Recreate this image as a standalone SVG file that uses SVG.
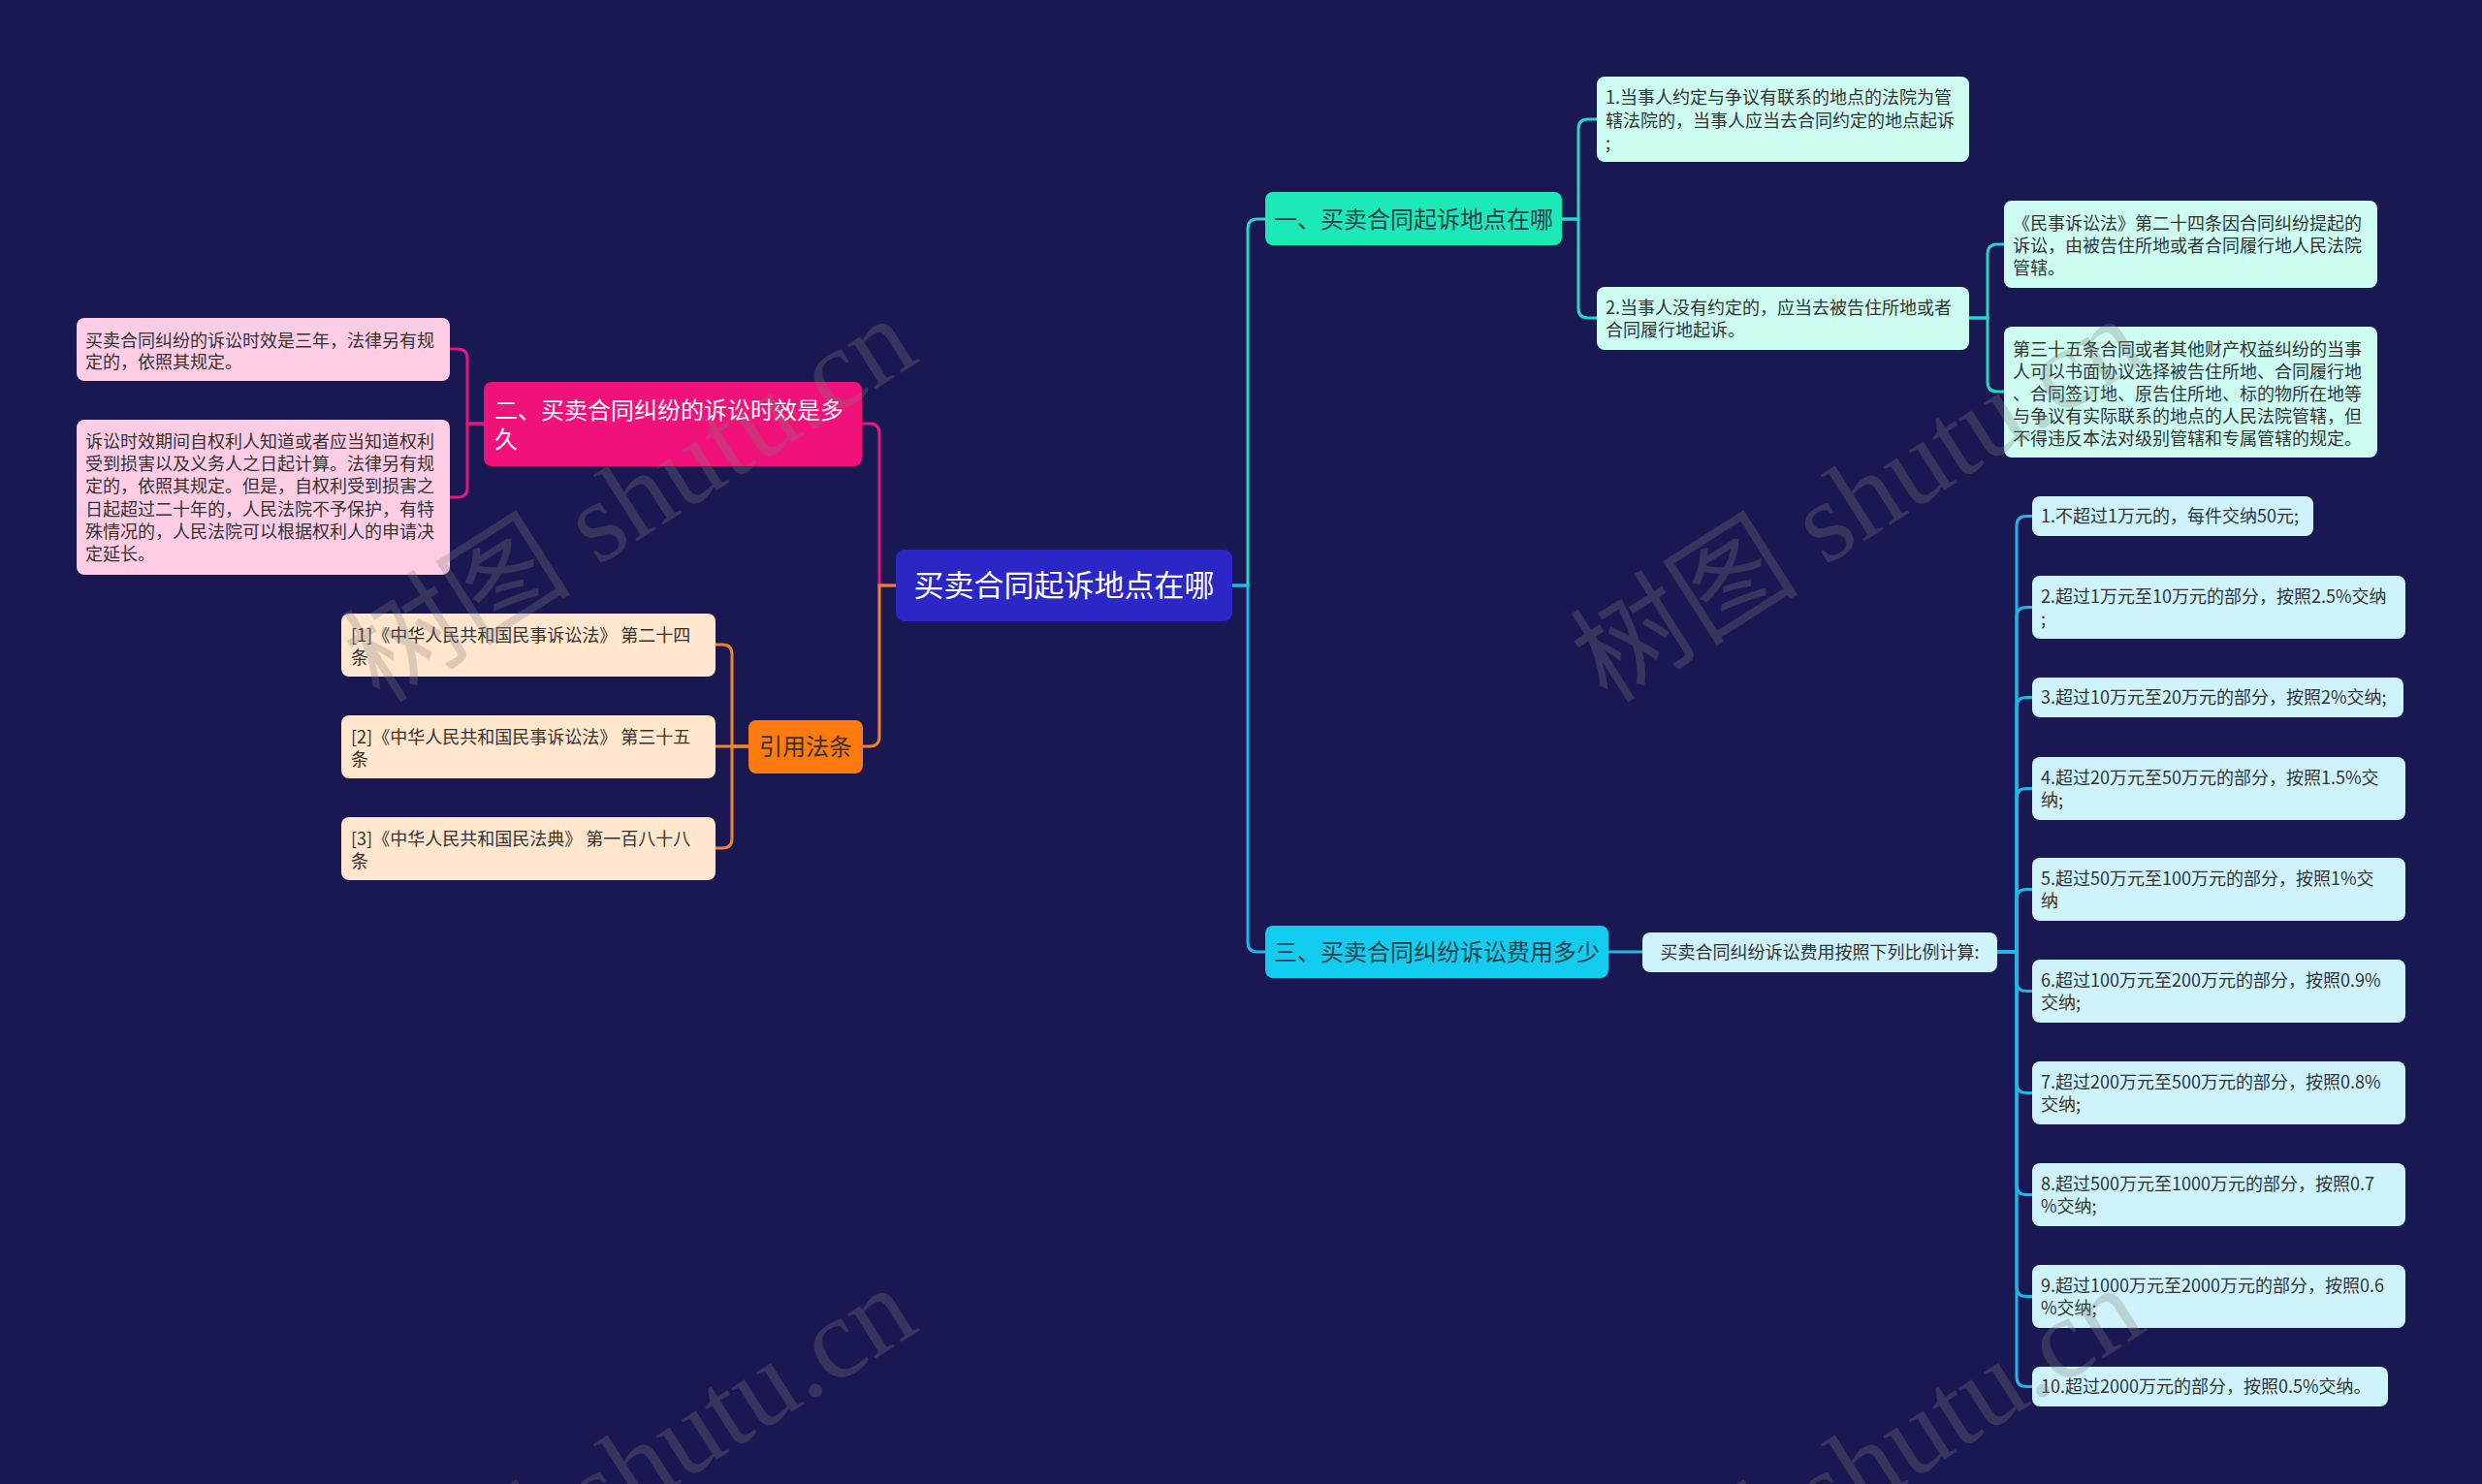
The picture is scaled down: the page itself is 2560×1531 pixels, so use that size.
<svg xmlns="http://www.w3.org/2000/svg" width="2560" height="1531" viewBox="0 0 2560 1531">
<style>
.t{font-family:"Noto Sans CJK SC","Noto Sans",sans-serif;}
.leaf{font-size:18px;fill:#333333;}
.big{font-size:24px;}
.c{fill:none;stroke-width:3;stroke-linecap:round;}
.mint{fill:#ccfdf0;}
.pinkl{fill:#ffcde3;}
.peach{fill:#ffe6cc;}
.cyanl{fill:#cff3fb;}
.wm{font-family:"Liberation Serif","Noto Sans CJK SC",serif;font-size:118px;fill:#808080;opacity:0.28;}
</style>
<rect x="0" y="0" width="2560" height="1531" fill="#1a1852"/>

<g id="connectors">
  <g stroke="#22d8c8" class="c">
    <path class="c" d="M1271 604 H1287 V236 Q1287 226 1297 226 H1305"/>
    <path class="c" d="M1611 226 H1628 V133 Q1628 123 1638 123 H1647"/>
    <path class="c" d="M1611 226 H1628 V318 Q1628 328 1638 328 H1647"/>
    <path class="c" d="M2031 328 H2050 V262 Q2050 252 2060 252 H2067"/>
    <path class="c" d="M2031 328 H2050 V394 Q2050 404 2060 404 H2067"/>
  </g>
  <g stroke="#1cb9e8" class="c">
    <path class="c" d="M1271 604 H1287 V972 Q1287 982 1297 982 H1305"/>
    <path class="c" d="M1659 982 H1694"/>
    <path class="c" d="M2060 982 H2080 V542.5 Q2080 532.5 2090 532.5 H2096"/>
    <path class="c" d="M2060 982 H2080 V636.5 Q2080 626.5 2090 626.5 H2096"/>
    <path class="c" d="M2060 982 H2080 V729.5 Q2080 719.5 2090 719.5 H2096"/>
    <path class="c" d="M2060 982 H2080 V823.5 Q2080 813.5 2090 813.5 H2096"/>
    <path class="c" d="M2060 982 H2080 V927.5 Q2080 917.5 2090 917.5 H2096"/>
    <path class="c" d="M2060 982 H2080 V1012.5 Q2080 1022.5 2090 1022.5 H2096"/>
    <path class="c" d="M2060 982 H2080 V1117.5 Q2080 1127.5 2090 1127.5 H2096"/>
    <path class="c" d="M2060 982 H2080 V1222.5 Q2080 1232.5 2090 1232.5 H2096"/>
    <path class="c" d="M2060 982 H2080 V1327.5 Q2080 1337.5 2090 1337.5 H2096"/>
    <path class="c" d="M2060 982 H2080 V1420.5 Q2080 1430.5 2090 1430.5 H2096"/>
  </g>
  <g stroke="#e3197c" class="c">
    <path class="c" d="M924 604 H907 V447 Q907 437 897 437 H889"/>
    <path class="c" d="M499 437 H482 V370 Q482 360 472 360 H464"/>
    <path class="c" d="M499 437 H482 V503 Q482 513 472 513 H464"/>
  </g>
  <g stroke="#f0832a" class="c">
    <path class="c" d="M924 604 H907 V760 Q907 770 897 770 H890"/>
    <path class="c" d="M772 770 H755 V675 Q755 665 745 665 H738"/>
    <path class="c" d="M772 770 H738"/>
    <path class="c" d="M772 770 H755 V865 Q755 875 745 875 H738"/>
  </g>
</g>

<g id="root">
  <rect x="924" y="567" width="347" height="74" rx="9" fill="#2a27c6"/>
  <text class="t" x="1097.5" y="615" font-size="31" fill="#ffffff" text-anchor="middle">买卖合同起诉地点在哪</text>
</g>

<g id="n1">
  <rect x="1305" y="198" width="306" height="55" rx="8" fill="#1de8b8"/>
  <text class="t big" x="1458" y="234.5" fill="#26404a" text-anchor="middle">一、买卖合同起诉地点在哪</text>
</g>
<g id="n1-1">
  <rect class="mint" x="1647" y="79" width="384" height="88" rx="8"/>
  <text class="t leaf"><tspan x="1656" y="106.5">1.当事人约定与争议有联系的地点的法院为管</tspan><tspan x="1656" y="130.5">辖法院的，当事人应当去合同约定的地点起诉</tspan><tspan x="1656" y="154">;</tspan></text>
</g>
<g id="n1-2">
  <rect class="mint" x="1647" y="296" width="384" height="65" rx="8"/>
  <text class="t leaf"><tspan x="1656" y="323.5">2.当事人没有约定的，应当去被告住所地或者</tspan><tspan x="1656" y="346.5">合同履行地起诉。</tspan></text>
</g>
<g id="n1-2-1">
  <rect class="mint" x="2067" y="207" width="385" height="90" rx="8"/>
  <text class="t leaf"><tspan x="2076" y="236.5">《民事诉讼法》第二十四条因合同纠纷提起的</tspan><tspan x="2076" y="259.5">诉讼，由被告住所地或者合同履行地人民法院</tspan><tspan x="2076" y="283">管辖。</tspan></text>
</g>
<g id="n1-2-2">
  <rect class="mint" x="2067" y="337" width="385" height="135" rx="8"/>
  <text class="t leaf"><tspan x="2076" y="366.5">第三十五条合同或者其他财产权益纠纷的当事</tspan><tspan x="2076" y="389.5">人可以书面协议选择被告住所地、合同履行地</tspan><tspan x="2076" y="412.5">、合同签订地、原告住所地、标的物所在地等</tspan><tspan x="2076" y="435.5">与争议有实际联系的地点的人民法院管辖，但</tspan><tspan x="2076" y="458.5">不得违反本法对级别管辖和专属管辖的规定。</tspan></text>
</g>

<g id="n3">
  <rect x="1305" y="955" width="354" height="54" rx="8" fill="#12cdf0"/>
  <text class="t big" x="1482" y="990.5" fill="#26404a" text-anchor="middle">三、买卖合同纠纷诉讼费用多少</text>
</g>
<g id="n3-1">
  <rect class="cyanl" x="1694" y="962" width="366" height="41" rx="8"/>
  <text class="t leaf" x="1877" y="988.5" text-anchor="middle">买卖合同纠纷诉讼费用按照下列比例计算:</text>
</g>
<g id="f1">
  <rect class="cyanl" x="2096" y="512" width="290" height="41" rx="8"/>
  <text class="t leaf" x="2105" y="539">1.不超过1万元的，每件交纳50元;</text>
</g>
<g id="f2">
  <rect class="cyanl" x="2096" y="594" width="385" height="65" rx="8"/>
  <text class="t leaf"><tspan x="2105" y="621.5">2.超过1万元至10万元的部分，按照2.5%交纳</tspan><tspan x="2105" y="644.5">;</tspan></text>
</g>
<g id="f3">
  <rect class="cyanl" x="2096" y="699" width="383" height="41" rx="8"/>
  <text class="t leaf" x="2105" y="726">3.超过10万元至20万元的部分，按照2%交纳;</text>
</g>
<g id="f4">
  <rect class="cyanl" x="2096" y="781" width="385" height="65" rx="8"/>
  <text class="t leaf"><tspan x="2105" y="808.5">4.超过20万元至50万元的部分，按照1.5%交</tspan><tspan x="2105" y="831.5">纳;</tspan></text>
</g>
<g id="f5">
  <rect class="cyanl" x="2096" y="885" width="385" height="65" rx="8"/>
  <text class="t leaf"><tspan x="2105" y="912.5">5.超过50万元至100万元的部分，按照1%交</tspan><tspan x="2105" y="935.5">纳</tspan></text>
</g>
<g id="f6">
  <rect class="cyanl" x="2096" y="990" width="385" height="65" rx="8"/>
  <text class="t leaf"><tspan x="2105" y="1017.5">6.超过100万元至200万元的部分，按照0.9%</tspan><tspan x="2105" y="1040.5">交纳;</tspan></text>
</g>
<g id="f7">
  <rect class="cyanl" x="2096" y="1095" width="385" height="65" rx="8"/>
  <text class="t leaf"><tspan x="2105" y="1122.5">7.超过200万元至500万元的部分，按照0.8%</tspan><tspan x="2105" y="1145.5">交纳;</tspan></text>
</g>
<g id="f8">
  <rect class="cyanl" x="2096" y="1200" width="385" height="65" rx="8"/>
  <text class="t leaf"><tspan x="2105" y="1227.5">8.超过500万元至1000万元的部分，按照0.7</tspan><tspan x="2105" y="1250.5">%交纳;</tspan></text>
</g>
<g id="f9">
  <rect class="cyanl" x="2096" y="1305" width="385" height="65" rx="8"/>
  <text class="t leaf"><tspan x="2105" y="1332.5">9.超过1000万元至2000万元的部分，按照0.6</tspan><tspan x="2105" y="1355.5">%交纳;</tspan></text>
</g>
<g id="f10">
  <rect class="cyanl" x="2096" y="1410" width="367" height="41" rx="8"/>
  <text class="t leaf" x="2105" y="1437">10.超过2000万元的部分，按照0.5%交纳。</text>
</g>

<g id="n2">
  <rect x="499" y="394" width="390" height="87" rx="8" fill="#f0117a"/>
  <text class="t big" fill="#ffffff"><tspan x="510" y="431.5">二、买卖合同纠纷的诉讼时效是多</tspan><tspan x="510" y="461.5">久</tspan></text>
</g>
<g id="n2-1">
  <rect class="pinkl" x="79" y="328" width="385" height="65" rx="8"/>
  <text class="t leaf"><tspan x="88" y="358">买卖合同纠纷的诉讼时效是三年，法律另有规</tspan><tspan x="88" y="380">定的，依照其规定。</tspan></text>
</g>
<g id="n2-2">
  <rect class="pinkl" x="79" y="433" width="385" height="160" rx="8"/>
  <text class="t leaf"><tspan x="88" y="461.5">诉讼时效期间自权利人知道或者应当知道权利</tspan><tspan x="88" y="484.5">受到损害以及义务人之日起计算。法律另有规</tspan><tspan x="88" y="508">定的，依照其规定。但是，自权利受到损害之</tspan><tspan x="88" y="531.5">日起超过二十年的，人民法院不予保护，有特</tspan><tspan x="88" y="554.5">殊情况的，人民法院可以根据权利人的申请决</tspan><tspan x="88" y="578">定延长。</tspan></text>
</g>

<g id="n4">
  <rect x="772" y="743" width="118" height="55" rx="8" fill="#ff7b10"/>
  <text class="t big" x="831" y="778.5" fill="#333333" text-anchor="middle">引用法条</text>
</g>
<g id="n4-1">
  <rect class="peach" x="352" y="633" width="386" height="65" rx="8"/>
  <text class="t leaf"><tspan x="362" y="661.5">[1]《中华人民共和国民事诉讼法》 第二十四</tspan><tspan x="362" y="684.5">条</tspan></text>
</g>
<g id="n4-2">
  <rect class="peach" x="352" y="738" width="386" height="65" rx="8"/>
  <text class="t leaf"><tspan x="362" y="766.5">[2]《中华人民共和国民事诉讼法》 第三十五</tspan><tspan x="362" y="789.5">条</tspan></text>
</g>
<g id="n4-3">
  <rect class="peach" x="352" y="843" width="386" height="65" rx="8"/>
  <text class="t leaf"><tspan x="362" y="871.5">[3]《中华人民共和国民法典》 第一百八十八</tspan><tspan x="362" y="894.5">条</tspan></text>
</g>

<g id="watermark">
  <text class="wm" transform="translate(392 727) rotate(-32.5)">树图 shutu.cn</text>
  <text class="wm" transform="translate(1658 727) rotate(-32.5)">树图 shutu.cn</text>
  <text class="wm" transform="translate(392 1727) rotate(-32.5)">树图 shutu.cn</text>
  <text class="wm" transform="translate(1658 1727) rotate(-32.5)">树图 shutu.cn</text>
</g>
</svg>
